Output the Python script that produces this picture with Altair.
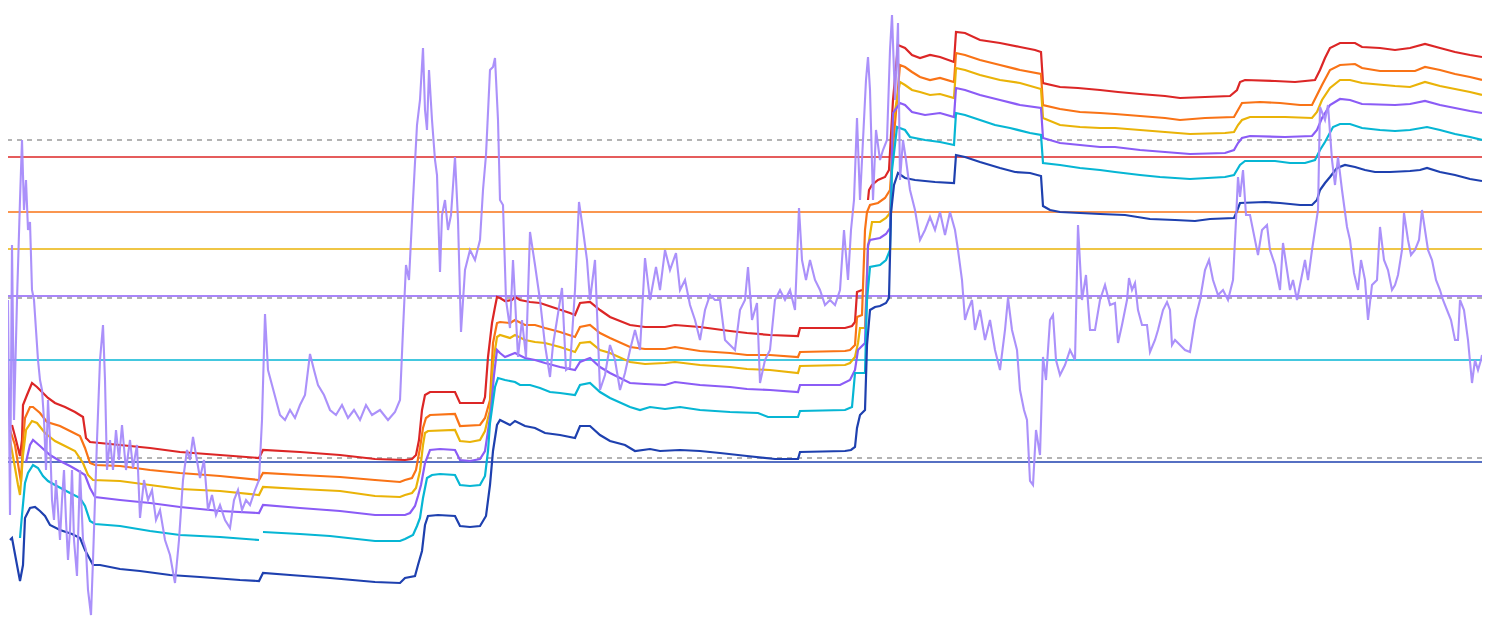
import altair as alt
import pandas as pd

# ---------------- data (day index, price units) ----------------
PRICE = [(0,333),(2,118),(4,388),(6,213),(9,333),(12,433),(14,493),(16,423),(18,453),(20,403),
(22,411),(24,343),(26,333),(28,303),(30,273),(32,253),(34,243),(36,213),(38,163),(40,233),
(42,193),(44,133),(46,113),(48,153),(50,123),(52,93),(54,133),(56,163),(58,113),(60,73),
(62,103),(64,163),(66,93),(69,57),(72,163),(75,93),(78,83),(80,43),(83,18),(85,73),
(87,133),(89,193),(92,273),(95,308),(97,253),(99,163),(102,193),(105,163),(108,203),(111,173),
(114,208),(118,163),(122,193),(125,165),(129,188),(132,115),(136,153),(140,133),(144,143),(148,113),
(152,123),(157,93),(162,78),(167,50),(171,93),(175,153),(179,183),(182,173),(185,196),(188,178),
(192,155),(196,173),(200,123),(204,138),(208,118),(212,128),(217,113),(222,105),(226,133),(230,143),
(234,123),(238,133),(242,128),(247,143),(251,153),(254,213),(257,319),(260,263),(264,248),(268,233),
(272,218),(277,213),(282,223),(287,215),(292,228),(297,238),(302,279),(306,263),(310,248),(316,238),
(322,223),(328,218),(334,228),(340,215),(346,223),(352,213),(358,228),(364,218),(372,223),(380,213),
(387,221),(392,233),(395,303),(398,368),(401,353),(405,433),(409,508),(412,533),(415,585),(417,523),
(419,503),(421,563),(424,513),(427,473),(429,458),(432,361),(434,418),(437,433),(440,403),(443,418),
(447,476),(450,413),(453,301),(457,363),(462,383),(467,373),(472,393),(475,443),(478,478),(482,563),
(485,566),(487,575),(490,513),(492,433),(495,428),(498,333),(502,305),(505,373),(510,276),(514,313),
(518,276),(522,401),(527,368),(532,333),(537,288),(542,256),(545,288),(549,313),(554,345),(558,263),
(562,266),(567,343),(571,431),(575,403),(579,373),(582,333),(587,373),(592,243),(597,258),(602,288),
(607,273),(612,243),(617,260),(622,283),(627,303),(632,283),(637,375),(642,333),(648,366),(652,343),
(657,383),(662,363),(668,380),(672,343),(677,353),(682,328),(687,313),(692,293),(697,323),(702,338),
(707,333),(712,333),(717,293),(722,288),(727,283),(732,323),(737,333),(740,366),(744,313),(749,330),
(752,250),(757,273),(762,283),(767,333),(772,343),(777,333),(782,343),(787,323),(791,425),(794,373),
(798,353),(802,373),(807,353),(812,343),(817,328),(822,333),(827,328),(832,343),(836,403),(840,353),
(843,403),(846,433),(849,515),(852,433),(854,473),(858,553),(860,576),(862,543),(865,433),(868,503),
(872,473),(875,483),(879,493),(882,583),(884,618),(887,533),(890,610),(892,453),(895,493),(898,473),
(902,443),(907,423),(912,393),(917,403),(922,416),(927,403),(932,421),(937,398),(942,421),(947,403),
(950,383),(954,353),(957,313),(960,323),(964,333),(967,303),(972,323),(977,293),(982,313),(987,283),
(992,263),(997,303),(1000,335),(1004,303),(1009,283),(1012,243),(1016,223),(1019,213),(1022,152),(1025,148),
(1028,203),(1032,178),(1035,276),(1038,253),(1042,313),(1045,318),(1048,273),(1052,258),(1057,268),(1062,283),
(1067,273),(1070,408),(1074,333),(1078,358),(1082,303),(1087,303),(1092,333),(1097,348),(1102,328),(1107,330),
(1110,290),(1114,308),(1119,333),(1121,355),(1124,343),(1127,350),(1130,323),(1134,308),(1139,308),(1142,281),
(1147,293),(1150,303),(1155,323),(1159,331),(1162,323),(1164,288),(1167,293),(1172,288),(1177,283),(1182,281),
(1187,313),(1192,333),(1197,363),(1201,373),(1205,353),(1210,338),(1215,343),(1220,333),(1225,353),(1228,413),
(1230,456),(1232,436),(1235,463),(1238,418),(1242,418),(1247,393),(1250,378),(1254,403),(1259,408),(1262,383),
(1267,368),(1272,343),(1275,390),(1279,363),(1282,343),(1285,353),(1289,333),(1292,348),(1297,373),(1300,353),
(1304,383),(1307,403),(1310,423),(1312,526),(1317,513),(1320,528),(1324,473),(1327,448),(1330,476),(1334,443),
(1339,406),(1342,393),(1346,360),(1350,343),(1353,373),(1357,353),(1360,313),(1364,348),(1369,353),(1372,406),
(1376,373),(1380,363),(1384,343),(1387,348),(1390,358),(1394,383),(1396,420),(1400,393),(1403,378),(1407,383),
(1411,393),(1414,423),(1417,403),(1420,383),(1424,373),(1428,353),(1432,343),(1435,333),(1439,323),(1443,313),
(1447,293),(1450,293),(1452,333),(1456,323),(1460,293),(1464,250),(1467,273),(1470,263),(1473,273),(1474,278)]

# None marks a short gap in the band line
RED = [(4,208),(8,193),(12,177),(14,193),(15,228),(19,238),(24,250),(29,246),(34,241),(40,235),
(47,230),(57,226),(67,221),(75,216),(78,195),(82,191),(112,188),(142,185),(172,181),(212,178),
(251,175),(255,183),(292,181),(332,178),(367,174),(397,173),(404,174),(408,178),(411,193),(414,223),
(417,238),(422,241),(447,241),(452,230),(475,230),(477,236),(480,276),(484,310),(487,326),(489,336),
(492,335),(497,332),(504,333),(507,336),(512,333),(522,331),(532,330),(547,325),(562,320),(567,318),
(572,330),(582,331),(592,323),(602,316),(622,308),(637,306),(657,306),(667,308),(692,306),(722,302),
(739,300),(762,298),(790,297),(792,305),(837,305),(844,307),(847,311),(849,341),(854,343),(856,None),(860,433),
(861,443),(864,448),(870,453),(877,456),(881,463),(885,533),(890,588),(897,585),(904,578),(912,575),
(922,578),(932,576),(946,571),(948,601),(957,600),(972,593),(992,590),(1012,586),(1027,583),(1033,581),
(1035,550),(1052,546),(1070,545),(1092,543),(1110,541),(1132,539),(1157,537),(1172,535),(1197,536),(1222,537),
(1229,543),(1232,551),(1237,553),(1267,552),(1287,551),(1307,553),(1312,563),(1317,575),(1322,585),(1332,590),
(1347,590),(1354,586),(1372,585),(1387,583),(1402,585),(1417,589),(1432,585),(1447,581),(1462,578),(1474,576)]

ORANGE = [(2,203),(7,188),(11,163),(13,151),(15,193),(17,215),(22,226),(25,226),(32,220),(39,211),
(52,207),(62,202),(72,197),(77,185),(82,170),(87,168),(112,167),(142,163),(172,160),(212,157),
(251,153),(255,160),(292,158),(332,156),(367,153),(392,151),(397,153),(404,155),(408,163),(412,185),
(415,205),(418,215),(422,218),(447,219),(452,207),(472,208),(477,215),(482,233),(485,290),(489,310),
(492,311),(502,310),(507,313),(517,308),(527,308),(537,305),(552,301),(567,296),(572,306),(582,308),
(592,300),(602,295),(622,286),(637,284),(657,284),(667,286),(692,282),(722,280),(739,278),(762,278),
(790,276),(792,281),(837,282),(842,283),(847,288),(849,316),(854,318),(857,403),(859,421),(862,428),
(870,430),(877,435),(882,443),(885,486),(892,568),(897,566),(904,561),(912,556),(922,553),(932,555),
(946,551),(948,580),(957,578),(972,573),(992,568),(1012,563),(1033,559),(1035,528),(1052,524),(1072,521),
(1092,520),(1107,519),(1132,517),(1157,515),(1172,513),(1197,515),(1226,516),(1230,523),(1234,530),(1252,531),
(1272,530),(1292,528),(1304,528),(1309,538),(1314,548),(1322,563),(1332,568),(1347,569),(1354,565),(1372,562),
(1407,562),(1417,566),(1432,563),(1447,559),(1462,556),(1474,553)]

YELLOW = [(2,193),(6,171),(10,148),(12,138),(15,178),(18,203),(24,212),(29,210),(37,200),(47,192),
(57,187),(67,182),(75,170),(80,158),(85,153),(112,152),(142,148),(172,144),(212,142),(251,138),
(255,146),(292,144),(332,142),(367,137),(392,136),(397,138),(404,140),(408,145),(412,162),(415,188),
(417,200),(420,202),(447,203),(452,192),(462,191),(472,193),(477,202),(480,215),(482,223),(485,270),
(489,296),(492,298),(502,295),(507,298),(517,293),(527,291),(537,290),(552,286),(567,281),(572,290),
(582,291),(592,283),(602,280),(622,271),(637,269),(657,270),(667,271),(692,268),(722,266),(739,264),
(762,263),(790,260),(792,267),(837,268),(842,270),(847,276),(850,290),(852,305),(857,305),(860,386),
(864,411),(872,411),(878,415),(882,420),(885,511),(892,551),(897,548),(904,543),(912,541),(922,538),
(932,539),(946,535),(948,565),(957,563),(972,558),(992,553),(1012,550),(1033,544),(1035,515),(1052,508),
(1072,506),(1092,505),(1107,505),(1132,503),(1157,501),(1182,499),(1217,500),(1226,501),(1230,508),(1234,513),
(1242,516),(1277,516),(1304,515),(1309,521),(1314,533),(1322,545),(1332,553),(1342,553),(1354,550),(1387,547),
(1402,546),(1417,551),(1432,547),(1447,544),(1462,541),(1474,538)]

PURPLE = [(18,171),(22,188),(25,193),(32,187),(42,178),(52,172),(62,167),(69,163),(77,158),(82,145),
(87,136),(112,133),(142,130),(172,126),(212,122),(251,120),(255,128),(292,125),(332,122),(367,118),
(397,118),(402,120),(407,127),(410,137),(413,148),(417,170),(422,183),(432,184),(447,183),(452,173),
(462,172),(472,174),(477,182),(480,202),(483,223),(486,258),(489,283),(492,280),(497,276),(502,278),
(507,280),(517,275),(527,273),(537,270),(552,266),(567,263),(572,271),(582,275),(592,266),(602,260),
(622,250),(637,249),(657,248),(667,251),(692,248),(722,246),(739,244),(762,243),(790,241),(792,248),
(832,248),(842,253),(847,263),(850,283),(857,290),(860,388),(862,393),(872,395),(878,399),(882,405),
(885,520),(892,530),(897,528),(904,521),(917,518),(932,520),(946,516),(948,545),(957,543),(972,538),
(992,533),(1012,528),(1033,525),(1035,495),(1052,490),(1072,488),(1092,486),(1107,486),(1132,483),(1157,481),
(1182,479),(1217,480),(1226,483),(1230,490),(1234,495),(1242,497),(1277,496),(1304,497),(1309,503),(1314,515),
(1322,528),(1332,534),(1342,533),(1354,529),(1387,528),(1402,529),(1417,532),(1432,528),(1447,525),(1462,522),
(1474,520)]

CYAN = [(12,95),(14,118),(17,150),(20,160),(25,168),(30,165),(35,157),(40,152),(47,148),(62,140),
(72,135),(77,127),(82,112),(87,109),(112,107),(142,102),(172,98),(212,96),(251,93),(253,None),(255,101),
(292,99),(322,97),(367,92),(392,92),(397,94),(405,98),(409,107),(412,115),(415,135),(419,155),
(424,158),(432,159),(447,158),(452,148),(462,147),(472,148),(477,157),(480,182),(482,210),(487,246),
(490,255),(497,253),(507,251),(512,248),(522,248),(532,245),(542,241),(552,240),(567,238),(572,248),
(582,250),(592,241),(602,235),(622,226),(632,223),(642,226),(657,224),(672,226),(692,223),(722,221),
(750,220),(760,216),(790,216),(792,222),(837,223),(844,226),(847,260),(857,260),(859,333),(862,366),
(872,368),(878,373),(882,383),(884,463),(889,506),(897,503),(902,496),(917,493),(932,491),(946,488),
(948,520),(957,518),(972,513),(987,508),(1002,505),(1022,500),(1033,498),(1035,470),(1052,468),(1072,465),
(1092,463),(1107,461),(1132,458),(1152,456),(1182,454),(1217,456),(1226,458),(1229,463),(1232,468),(1237,472),
(1267,472),(1282,470),(1297,470),(1307,473),(1312,483),(1317,491),(1325,506),(1332,509),(1342,509),(1354,505),
(1372,503),(1387,502),(1402,503),(1419,506),(1432,503),(1447,499),(1462,496),(1474,493)]

BLUE = [(2,93),(4,95),(9,68),(12,52),(15,68),(17,115),(22,125),(27,126),(32,122),(37,117),
(42,108),(52,103),(64,99),(72,95),(77,83),(85,68),(92,68),(112,64),(132,62),(162,58),
(192,56),(232,53),(251,52),(255,60),(282,58),(322,55),(367,51),(392,50),(397,55),(407,57),
(410,68),(414,82),(417,108),(420,117),(430,118),(447,117),(452,107),(462,106),(472,107),(478,117),
(482,148),(485,182),(489,208),(492,213),(502,208),(507,212),(517,207),(527,205),(537,200),(552,198),
(567,195),(572,207),(582,207),(592,198),(602,192),(617,188),(627,182),(642,184),(652,182),(672,183),
(692,182),(712,180),(739,177),(767,174),(790,174),(792,181),(837,182),(843,183),(847,186),(849,205),
(852,218),(857,223),(859,288),(862,323),(867,326),(872,327),(878,330),(881,335),(883,420),(886,448),
(890,460),(897,455),(907,453),(927,451),(946,450),(948,478),(957,476),(972,471),(992,465),(1007,461),
(1022,460),(1033,457),(1035,427),(1042,423),(1052,421),(1072,420),(1092,419),(1117,418),(1142,414),(1167,413),
(1187,412),(1202,414),(1226,415),(1229,422),(1232,430),(1257,431),(1272,430),(1292,428),(1304,428),(1309,433),
(1312,443),(1317,450),(1322,456),(1329,465),(1337,468),(1347,466),(1357,463),(1367,461),(1382,461),(1402,462),
(1412,463),(1419,465),(1432,461),(1447,458),(1462,454),(1474,452)]

BAND_NAMES = ["red", "orange", "yellow", "purple", "cyan", "blue"]
BAND_COLORS = ["#dc2626", "#f97316", "#eab308", "#8b5cf6", "#06b6d4", "#1e40af"]
LEVELS = [476, 421, 384, 337, 273, 171]          # horizontal level per band colour
DASHED = [493, 335, 175]                          # grey dashed reference prices
DAY_START, DAY_END = 0, 1474

# ---------------- frames ----------------
rows = []
for name, pts in zip(BAND_NAMES, [RED, ORANGE, YELLOW, PURPLE, CYAN, BLUE]):
    for d, p in pts:
        rows.append({"band": name, "day": d, "price": p})
bands_df = pd.DataFrame(rows)
price_df = pd.DataFrame(PRICE, columns=["day", "price"])
levels_df = pd.DataFrame({"band": BAND_NAMES, "price": LEVELS,
                          "d0": DAY_START, "d1": DAY_END})
dashed_df = pd.DataFrame({"price": DASHED})

xs = alt.Scale(domain=[DAY_START, DAY_END], nice=False, zero=False)
ys = alt.Scale(domain=[13, 625], nice=False, zero=False)
cs = alt.Scale(domain=BAND_NAMES, range=BAND_COLORS)

dashed = alt.Chart(dashed_df).mark_rule(
    color="#9a9a9a", strokeWidth=1.3, strokeDash=[5, 5]
).encode(y=alt.Y("price:Q", scale=ys, axis=None))

levels = alt.Chart(levels_df).mark_rule(strokeWidth=1.6).encode(
    y=alt.Y("price:Q", scale=ys, axis=None),
    x=alt.X("d0:Q", scale=xs, axis=None),
    x2="d1:Q",
    color=alt.Color("band:N", scale=cs, legend=None),
)

bands = alt.Chart(bands_df).mark_line(strokeWidth=2.2).encode(
    x=alt.X("day:Q", scale=xs, axis=None),
    y=alt.Y("price:Q", scale=ys, axis=None),
    color=alt.Color("band:N", scale=cs, legend=None),
    detail="band:N",
)

price = alt.Chart(price_df).mark_line(color="#a78bfa", strokeWidth=2.1, opacity=0.95).encode(
    x=alt.X("day:Q", scale=xs, axis=None),
    y=alt.Y("price:Q", scale=ys, axis=None),
)

chart = alt.layer(dashed, levels, bands, price).properties(
    width=1474, height=612, padding=0,
    autosize=alt.AutoSizeParams(type="none"),
    background="#ffffff",
).configure_view(strokeWidth=0)

chart.save("out.html", embed_options={"renderer": "svg", "actions": False})
